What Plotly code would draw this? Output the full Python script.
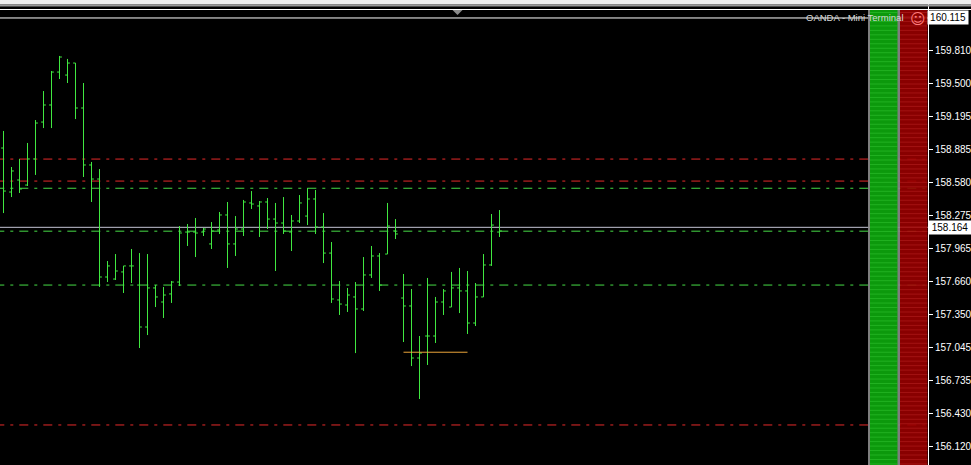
import plotly.graph_objects as go

# ---------------- data ----------------
open_ = [158.903, 158.493, 158.605, 158.558, 158.801, 159.145, 159.304, 159.611, 159.583, 159.695,
         159.276, 158.745, 158.614, 157.701, 157.682, 157.748, 157.804, 157.626, 157.235, 157.599,
         157.468, 157.543, 157.654, 158.120, 158.120, 158.120, 158.009, 158.139, 158.279, 158.009,
         158.148, 158.391, 158.363, 158.400, 158.241, 158.204, 158.120, 158.223, 158.269, 158.428,
         158.167, 157.924, 157.487, 157.440, 157.515, 157.403, 157.720, 157.897, 157.915, 158.130,
         157.505, 157.431, 156.946, 157.151, 157.151, 157.468, 157.421, 157.599, 157.571, 157.272,
         157.515, 157.813, 158.120]
high = [159.062, 158.726, 158.801, 158.950, 159.164, 159.434, 159.621, 159.761, 159.733, 159.695,
        159.509, 158.773, 158.707, 157.850, 157.915, 157.804, 157.962, 157.924, 157.915, 157.626,
        157.608, 157.664, 158.176, 158.195, 158.251, 158.158, 158.213, 158.307, 158.400, 158.269,
        158.419, 158.502, 158.409, 158.437, 158.391, 158.446, 158.279, 158.465, 158.530, 158.512,
        158.297, 158.027, 157.664, 157.599, 157.654, 157.887, 157.990, 157.924, 158.391, 158.241,
        157.729, 157.589, 157.151, 157.692, 157.515, 157.589, 157.748, 157.785, 157.757, 157.645,
        157.915, 158.288, 158.325]
low = [158.297, 158.446, 158.484, 158.549, 158.652, 159.089, 159.089, 159.546, 159.509, 159.173,
       158.633, 158.400, 157.608, 157.654, 157.673, 157.552, 157.645, 157.039, 157.160, 157.421,
       157.319, 157.459, 157.617, 157.990, 157.887, 158.083, 157.962, 158.102, 157.785, 157.897,
       158.083, 158.335, 158.074, 158.148, 157.757, 158.102, 157.943, 158.204, 158.185, 158.102,
       157.831, 157.459, 157.347, 157.375, 156.992, 157.384, 157.692, 157.571, 157.915, 158.055,
       157.095, 156.871, 156.564, 156.881, 157.086, 157.347, 157.421, 157.365, 157.170, 157.244,
       157.515, 157.804, 158.074]
close = [158.502, 158.689, 158.521, 158.801, 159.136, 159.304, 159.611, 159.751, 159.695, 159.276,
         158.745, 158.614, 157.701, 157.804, 157.757, 157.804, 157.804, 157.235, 157.599, 157.515,
         157.533, 157.654, 158.111, 158.120, 158.111, 158.148, 158.130, 158.279, 158.009, 158.148,
         158.400, 158.381, 158.400, 158.241, 158.204, 158.130, 158.223, 158.391, 158.428, 158.167,
         157.924, 157.496, 157.449, 157.533, 157.403, 157.720, 157.897, 157.626, 158.176, 158.102,
         157.431, 156.946, 156.992, 157.151, 157.468, 157.571, 157.599, 157.571, 157.272, 157.515,
         157.813, 158.185, 158.130]
bars = list(range(len(open_)))

tick_vals = [159.810, 159.500, 159.195, 158.885, 158.580, 158.275, 157.965,
             157.660, 157.350, 157.045, 156.735, 156.430, 156.120]
tick_text = ["159.810", "159.500", "159.195", "158.885", "158.580", "158.275", "157.965",
             "157.660", "157.350", "157.045", "156.735", "156.430", "156.120"]

red_levels = [158.800, 158.595, 156.322]
green_levels = [158.528, 158.128, 157.626]
current_price = 158.164
top_level = 160.115
orange_level = 157.000
orange_span = [50, 58]

title_text = "OANDA - Mini Terminal"

# ---------------- layout constants ----------------
W, H = 971, 465
PW = 928                      # plot width in px
y_range = [155.9489, 160.2825]
x_range = [-0.4375, 115.5625]

BAR = "#40e840"
RED = "#e62a2a"
GREEN = "#46dc46"
DASH = "9px,6px,3px,6px"


def px(x):
    return x / PW


def py(y):
    return 1 - y / H


fig = go.Figure()
fig.add_trace(go.Ohlc(
    x=bars, open=open_, high=high, low=low, close=close,
    increasing=dict(line=dict(color=BAR, width=1)),
    decreasing=dict(line=dict(color=BAR, width=1)),
    tickwidth=0.3, hoverinfo="skip", showlegend=False,
))

shapes = []
# window chrome at top
shapes.append(dict(type="rect", xref="paper", yref="paper", x0=0, x1=px(W), y0=py(0), y1=py(4.5),
                   fillcolor="#eeeeee", line=dict(width=0), layer="above"))
shapes.append(dict(type="rect", xref="paper", yref="paper", x0=0, x1=px(W), y0=py(4.5), y1=py(6.5),
                   fillcolor="#9a9a9a", line=dict(width=0), layer="above"))
shapes.append(dict(type="line", xref="paper", yref="paper", x0=0, x1=px(W), y0=py(9.5), y1=py(9.5),
                   line=dict(color="#ffffff", width=1), layer="above"))
shapes.append(dict(type="path", xref="paper", yref="paper",
                   path=f"M {px(452.5)},{py(10)} L {px(462.5)},{py(10)} L {px(457.5)},{py(15)} Z",
                   fillcolor="#8a8a8a", line=dict(width=0), layer="above"))

# horizontal levels
for lv in red_levels:
    shapes.append(dict(type="line", xref="paper", yref="y", x0=px(-4.7), x1=1, y0=lv, y1=lv,
                       line=dict(color=RED, width=1, dash=DASH), layer="below"))
for lv in green_levels:
    shapes.append(dict(type="line", xref="paper", yref="y", x0=px(-4.7), x1=1, y0=lv, y1=lv,
                       line=dict(color=GREEN, width=1, dash=DASH), layer="below"))
shapes.append(dict(type="line", xref="paper", yref="y", x0=0, x1=1, y0=current_price, y1=current_price,
                   line=dict(color="#c4c4d4", width=1), layer="below"))
shapes.append(dict(type="line", xref="paper", yref="y", x0=0, x1=1, y0=top_level, y1=top_level,
                   line=dict(color="#ffffff", width=1), layer="below"))
shapes.append(dict(type="line", xref="x", yref="y", x0=orange_span[0], x1=orange_span[1],
                   y0=orange_level, y1=orange_level,
                   line=dict(color="#eaa43a", width=1), layer="above"))

# side panels (mini terminal)
shapes.append(dict(type="rect", xref="paper", yref="paper", x0=px(868), x1=px(900), y0=py(10), y1=0,
                   fillcolor="#8c8c8c", line=dict(width=0), layer="above", opacity=0.9))
shapes.append(dict(type="rect", xref="paper", yref="paper", x0=px(870), x1=px(897.5), y0=py(10), y1=0,
                   fillcolor="#009c00", line=dict(width=0), layer="above", opacity=0.9))
shapes.append(dict(type="rect", xref="paper", yref="paper", x0=px(900), x1=px(927.5), y0=py(10), y1=0,
                   fillcolor="#980000", line=dict(width=0), layer="above", opacity=0.9))
g_path, r_path = [], []
yy = 12.5
while yy < H:
    g_path.append(f"M {px(870)},{py(yy)} L {px(897.5)},{py(yy)}")
    r_path.append(f"M {px(900)},{py(yy)} L {px(927.5)},{py(yy)}")
    yy += 4.47
shapes.append(dict(type="path", xref="paper", yref="paper", path=" ".join(g_path),
                   line=dict(color="#3ccf3c", width=1), layer="above", opacity=0.45))
shapes.append(dict(type="path", xref="paper", yref="paper", path=" ".join(r_path),
                   line=dict(color="#c42a2a", width=1), layer="above", opacity=0.45))

annotations = [
    dict(xref="paper", yref="paper", x=px(906), y=py(18), text=title_text, showarrow=False,
         xanchor="right", yanchor="middle", font=dict(family="Liberation Sans", size=9.5, color="#d8d8d8")),
    dict(xref="paper", yref="paper", x=px(918), y=py(19), text="☺", showarrow=False,
         xanchor="center", yanchor="middle", font=dict(family="DejaVu Sans", size=15, color="#ff7a7a")),
    dict(xref="paper", yref="paper", x=px(948.5), y=py(17.5), text="160.115", showarrow=False,
         xanchor="center", yanchor="middle", bgcolor="#ffffff", borderpad=1, width=38,
         font=dict(family="Liberation Sans", size=10, color="#000000")),
    dict(xref="paper", yref="y", x=px(950), y=current_price, text="158.164", showarrow=False,
         xanchor="center", yanchor="middle", bgcolor="#ffffff", borderpad=1, width=40,
         font=dict(family="Liberation Sans", size=10, color="#000000")),
]

fig.update_layout(
    width=W, height=H,
    margin=dict(l=0, r=W - PW, t=0, b=0),
    paper_bgcolor="#000000", plot_bgcolor="#000000",
    showlegend=False,
    shapes=shapes, annotations=annotations,
    xaxis=dict(range=x_range, visible=False, rangeslider=dict(visible=False), fixedrange=True),
    yaxis=dict(range=y_range, side="right", showgrid=False, zeroline=False,
               showline=True, linecolor="#ffffff", linewidth=1,
               ticks="outside", ticklen=4, tickcolor="#ffffff", tickwidth=1,
               tickvals=tick_vals, ticktext=tick_text,
               tickfont=dict(family="Liberation Sans", size=10, color="#ffffff"),
               fixedrange=True),
)

fig.write_html(
    "out.html",
    config={"displayModeBar": False},
    post_script="document.body.style.margin='0';document.body.style.overflow='hidden';"
                "document.body.style.background='#000';",
)
